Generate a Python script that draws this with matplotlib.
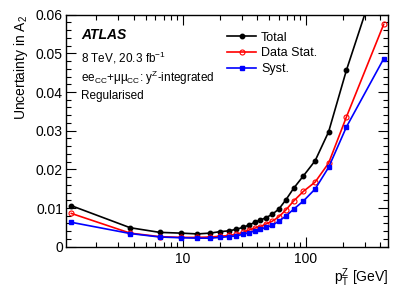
import matplotlib
matplotlib.use("Agg")
import matplotlib.pyplot as plt
from matplotlib.ticker import LogLocator, FixedLocator, NullFormatter, MultipleLocator, FixedFormatter

plt.rcParams['font.family'] = ['Liberation Sans', 'DejaVu Sans']
plt.rcParams['mathtext.fontset'] = 'custom'
plt.rcParams['mathtext.rm'] = 'Liberation Sans'
plt.rcParams['mathtext.it'] = 'Liberation Sans:italic'
plt.rcParams['mathtext.bf'] = 'Liberation Sans:bold'

# Data: bin centres in pT^Z [GeV]
pt = [1.25, 3.75, 6.5, 9.7, 13.15, 16.7, 20.25, 23.75, 27.25, 30.8, 34.5, 38.4,
      42.65, 47.55, 53.3, 60.15, 68.65, 79.4, 95.2, 118.5, 152.5, 213.0, 426.5]
total = [0.0106, 0.0049, 0.0037, 0.0035, 0.0033, 0.0035, 0.0039, 0.0041, 0.0045,
         0.0050, 0.0056, 0.0063, 0.0069, 0.0075, 0.0084, 0.0097, 0.0121, 0.0151,
         0.0183, 0.0222, 0.0297, 0.0457, 0.0750]
stat = [0.0086, 0.0035, 0.0026, 0.0024, 0.0024, 0.0025, 0.0027, 0.0029, 0.0032,
        0.0037, 0.0043, 0.0048, 0.0052, 0.0059, 0.0066, 0.0077, 0.0095, 0.0118,
        0.0143, 0.0167, 0.0216, 0.0336, 0.0575]
syst = [0.0063, 0.0034, 0.0025, 0.0023, 0.0022, 0.0022, 0.0024, 0.0026, 0.0028,
        0.0032, 0.0036, 0.0041, 0.0045, 0.0050, 0.0055, 0.0066, 0.0079, 0.0097,
        0.0118, 0.0149, 0.0205, 0.0310, 0.0486]
labels = ["Total", "Data Stat.", "Syst."]

fig = plt.figure(figsize=(4.09, 2.94), dpi=100)
ax = fig.add_axes([0.1606, 0.161, 0.7888, 0.789])

ax.plot(pt, total, color='black', lw=1.2, marker='o', ms=3.2, label=labels[0])
ax.plot(pt, stat, color='#ff0000', lw=1.2, marker='o', ms=3.6, mfc='none', mew=0.8, label=labels[1])
ax.plot(pt, syst, color='#0000ff', lw=1.2, marker='s', ms=3.2, label=labels[2])

ax.set_xscale('log')
ax.set_xlim(1.125, 465)
ax.set_ylim(0, 0.06)

ax.xaxis.set_major_locator(FixedLocator([10, 100]))
ax.xaxis.set_major_formatter(FixedFormatter(["10", "100"]))
ax.xaxis.set_minor_locator(LogLocator(base=10, subs=[2, 3, 4, 5, 6, 7, 8, 9], numticks=20))
ax.xaxis.set_minor_formatter(NullFormatter())
ax.yaxis.set_major_locator(MultipleLocator(0.01))
ax.yaxis.set_minor_locator(MultipleLocator(0.002))
ax.yaxis.set_major_formatter(matplotlib.ticker.FuncFormatter(lambda v, p: "0" if abs(v) < 1e-9 else f"{v:.2f}"))

ax.tick_params(which='both', direction='in', top=True, right=True, labelsize=10, pad=2)
ax.tick_params(which='major', length=7, width=0.8)
ax.tick_params(which='minor', length=3.5, width=0.8)
ax.tick_params(axis='x', which='major', pad=4)
for s in ax.spines.values():
    s.set_linewidth(1.0)

ax.set_ylabel(r"Uncertainty in A$_{2}$", fontsize=10, loc='top', labelpad=4)
ax.set_xlabel(r"p$_{\mathrm{T}}^{\mathrm{Z}}$ [GeV]", fontsize=10, loc='right', labelpad=0)

ax.text(0.047, 0.913, "ATLAS", transform=ax.transAxes, fontsize=10, fontweight='bold', fontstyle='italic', va='center')
ax.text(0.047, 0.815, r"8 TeV, 20.3 fb$^{-1}$", transform=ax.transAxes, fontsize=8.5, va='center')
ax.text(0.047, 0.728, r"ee$_{\mathrm{CC}}$+μμ$_{\mathrm{CC}}$: y$^{\mathrm{Z}}$-integrated", transform=ax.transAxes, fontsize=8.5, va='center')
ax.text(0.047, 0.650, "Regularised", transform=ax.transAxes, fontsize=8.5, va='center')

leg = ax.legend(loc='upper left', bbox_to_anchor=(0.47, 0.97), frameon=False, fontsize=9,
                handlelength=2.3, handletextpad=0.4, labelspacing=0.3, borderaxespad=0.4)

fig.savefig("out.png", dpi=100)
